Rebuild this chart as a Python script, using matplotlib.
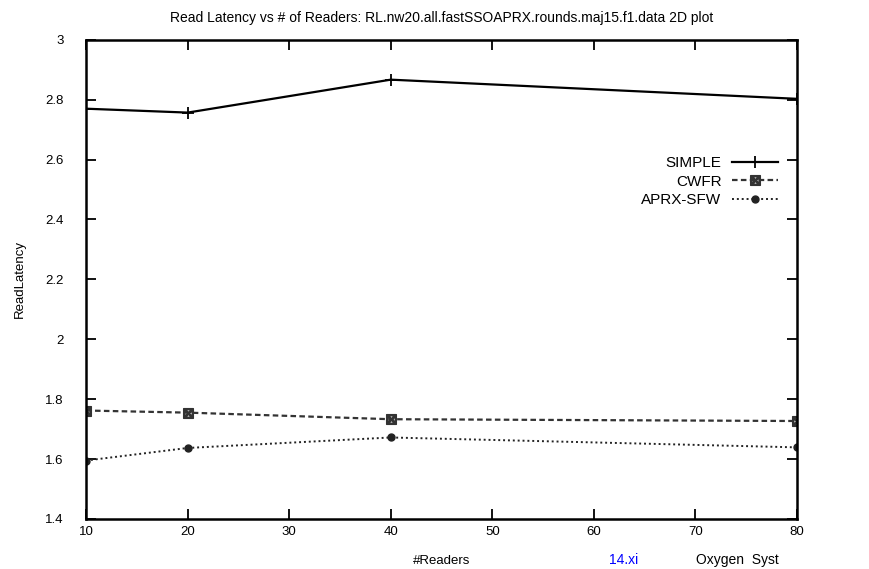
import matplotlib
matplotlib.use('Agg')
import matplotlib.pyplot as plt

# data
readers = [10, 20, 40, 80]
simple = [2.77, 2.757, 2.867, 2.803]
cwfr = [1.762, 1.755, 1.733, 1.727]
aprx_sfw = [1.595, 1.637, 1.672, 1.639]

x_ticks = [10, 20, 30, 40, 50, 60, 70, 80]
y_ticks = [1.4, 1.6, 1.8, 2, 2.2, 2.4, 2.6, 2.8, 3]
y_labels = ['1.4', '1.6', '1.8', '2', '2.2', '2.4', '2.6', '2.8', '3']

plt.rcParams['font.family'] = ['Liberation Sans', 'DejaVu Sans']

fig = plt.figure(figsize=(8.7, 5.69), dpi=100)
ax = fig.add_axes([0.099, 0.088, 0.817, 0.842])

ax.plot(readers, simple, color='black', lw=1.6, marker='+', ms=9, mew=1.3, label='SIMPLE')
ax.plot(readers, cwfr, color='#333333', lw=1.6, ls=(0, (2.5, 1.5)),
        marker=r'$\boxtimes$', ms=7, label='CWFR')
ax.plot(readers, aprx_sfw, color='#222222', lw=1.4, ls=(0, (1, 1.5)),
        marker='o', ms=5, label='APRX-SFW')

ax.set_xlim(10, 80)
ax.set_ylim(1.4, 3)
ax.set_xticks(x_ticks)
ax.set_yticks(y_ticks)
ax.set_yticklabels(y_labels)
ax.tick_params(direction='in', length=7, width=1.3, labelsize=9.5,
               top=True, right=True)
ax.tick_params(axis='x', pad=5)
ax.tick_params(axis='y', pad=16)
for s in ax.spines.values():
    s.set_linewidth(1.8)

ax.set_title('Read Latency vs # of Readers: RL.nw20.all.fastSSOAPRX.rounds.maj15.f1.data 2D plot',
             fontsize=10, pad=13)
ax.set_xlabel('#Readers', fontsize=9.5, labelpad=12)
ax.set_ylabel('ReadLatency', fontsize=9.5, labelpad=14)

ax.legend(loc='upper right', bbox_to_anchor=(0.982, 0.77), frameon=False,
          markerfirst=False, fontsize=11, handlelength=3.0, labelspacing=0.3,
          borderaxespad=0, handletextpad=0.7)

# page text at the bottom edge of the screenshot
fig.text(0.70, 0.003, '14.xi', color='blue', fontsize=10, va='bottom')
fig.text(0.80, 0.003, 'Oxygen  Syst', color='black', fontsize=10, va='bottom')

fig.savefig('out.png', dpi=100)
